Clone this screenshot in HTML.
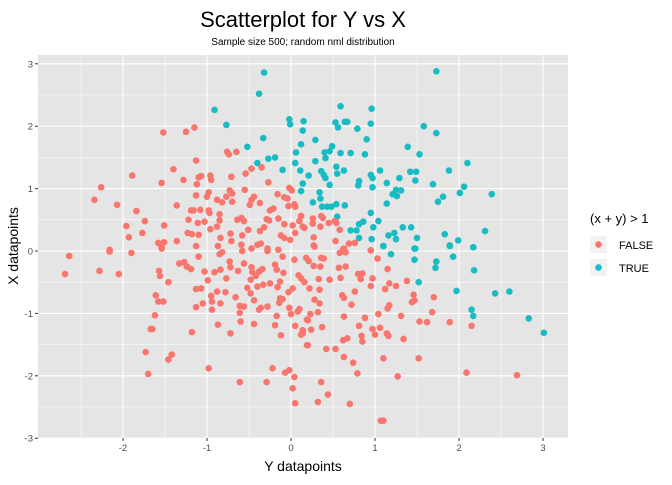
<!DOCTYPE html>
<html><head><meta charset="utf-8"><style>
body{margin:0;background:#fff;}
svg{font-family:"Liberation Sans",sans-serif;}
</style></head><body>
<svg id="chart" width="672" height="480">
<rect width="672" height="480" fill="#fff"/>
<text x="303" y="27" text-anchor="middle" font-size="22" fill="#000">Scatterplot for Y vs X</text>
<text x="303" y="45" text-anchor="middle" font-size="10" fill="#000">Sample size 500; random nml distribution</text>
<rect x="38" y="55" width="530" height="383" fill="#e5e5e5"/>
<g id="grid"></g><g id="ticks"></g><g id="points"></g>
<text x="303" y="471" text-anchor="middle" font-size="14" fill="#000">Y datapoints</text>
<text transform="translate(18,246) rotate(-90)" text-anchor="middle" font-size="14" fill="#000">X datapoints</text>
<g>
<text x="590" y="223" font-size="13" fill="#000">(x + y) &gt; 1</text>
<rect x="590" y="236" width="17" height="17" fill="#f2f2f2"/>
<circle cx="598.5" cy="244.5" r="3.3" fill="#F8766D"/>
<text x="619" y="249" font-size="11" fill="#000">FALSE</text>
<rect x="590" y="259" width="17" height="17" fill="#f2f2f2"/>
<circle cx="598.5" cy="267.5" r="3.3" fill="#1ABCC4"/>
<text x="619" y="272" font-size="11" fill="#000">TRUE</text>
</g>
</svg>
<script>
const xTicks=[-2,-1,0,1,2,3];
const yTicks=[-3,-2,-1,0,1,2,3];
const xs=[-0.32,-0.38,-0.91,-0.77,-0.33,-0.52,-0.40,-0.35,-0.27,-0.19,-0.10,-0.02,-0.01,0.15,0.14,0.12,0.06,0.05,0.11,0.14,-0.02,0.12,
-1.15,-1.25,-1.52,-0.76,-0.74,-0.65,-1.13,-1.40,-1.89,-1.54,-1.28,-1.10,-1.07,-0.96,-0.95,-1.12,-0.71,-0.54,-0.47,-0.27,-2.26,-2.34,-2.07,-1.84,-1.74,-1.96,-1.93,-1.77,-1.51,-1.36,-1.13,-0.98,-1.00,-0.88,-0.82,-0.77,-0.73,-0.70,-0.70,-0.55,-0.47,-0.44,-0.49,-0.37,-0.16,-0.08,-0.04,0.01,-0.03,0.04,0.05,-1.19,-1.16,-1.08,-0.98,-0.97,-0.85,-1.22,-1.11,-1.03,-0.85,-0.96,-0.88,-0.64,-0.59,-0.56,-0.72,-0.84,-0.71,-0.58,-0.51,-0.37,-0.32,-0.29,-0.26,-0.25,-0.21,-0.15,-0.08,0.02,0.12,0.10,0.14,-0.12,-0.08,-0.01,0.05,-1.23,-1.18,-1.10,-1.36,-1.58,-1.51,-1.54,-1.13,-0.87,-0.40,-0.36,-0.28,-0.15,-0.47,-0.59,-2.16,
-2.64,-2.69,-2.28,-2.16,-2.05,-1.90,-1.54,-1.33,-1.27,-1.24,-1.19,-1.10,-1.57,-1.56,-1.46,-1.61,-1.58,-1.52,-1.62,-1.67,-1.65,-1.73,-1.70,-1.42,-1.46,-1.18,-1.13,-1.13,-1.07,-1.05,-1.03,-0.99,-0.95,-0.94,-0.94,-0.91,-0.88,-0.84,-0.87,-0.84,-0.85,-0.82,-0.78,-0.77,-0.73,-0.72,-0.72,-0.66,-0.63,-0.61,-0.61,-0.60,-0.56,-0.56,-0.58,-0.52,-0.48,-0.47,-0.46,-0.48,-0.44,-0.44,-0.42,-0.40,-0.38,-0.34,-0.33,-0.38,-0.36,-0.28,-0.25,-0.28,-0.19,-0.17,-0.16,-0.13,-0.10,-0.09,-0.03,-0.13,-0.10,-0.14,-0.17,-0.19,-0.12,-0.02,0.00,0.05,0.04,0.09,0.08,0.14,0.19,0.20,0.02,-0.22,-0.07,-0.02,0.04,0.02,0.05,-0.29,-0.61,-0.98,
1.73,0.59,0.96,0.53,0.56,0.64,0.67,0.79,0.95,0.29,0.90,1.58,1.73,1.39,1.53,0.40,0.46,0.49,0.41,0.59,0.71,0.88,0.29,0.54,0.55,0.63,2.10,1.88,1.06,0.36,0.39,0.41,0.21,0.95,0.97,0.97,0.81,0.80,0.46,1.42,1.49,1.48,1.29,1.14,1.69,1.21,1.25,1.31,1.26,2.06,2.01,2.39,1.81,1.75,1.14,0.34,0.35,0.26,0.37,0.43,0.48,0.54,0.64,0.55,0.54,0.95,1.04,0.86,0.81,0.98,0.78,0.71,0.81,0.96,1.16,1.23,1.25,1.33,1.43,1.50,1.10,1.47,1.83,1.99,1.89,2.17,2.31,
0.12,0.26,0.26,0.36,0.38,0.45,0.52,0.35,0.16,0.58,0.27,0.53,0.69,0.76,0.63,0.27,0.95,
1.10,1.48,1.19,1.47,1.73,1.72,1.89,2.17,1.93,2.18,1.52,1.97,2.43,2.60,2.15,2.17,2.83,3.01,
0.28,0.62,0.65,0.58,0.95,1.03,0.18,0.21,0.36,0.39,0.27,0.35,0.57,0.65,1.15,0.12,0.16,0.33,0.46,0.59,0.80,0.85,0.83,0.97,0.95,1.17,1.25,1.38,1.12,0.22,0.34,0.76,0.61,0.63,0.28,0.34,0.72,1.46,1.44,1.47,1.70,1.17,1.15,0.10,0.23,0.32,0.19,0.63,0.88,1.04,1.31,1.68,1.53,1.62,1.89,2.15,0.14,0.24,0.12,0.37,0.81,0.97,1.00,1.06,1.14,1.16,0.84,0.85,0.67,0.62,1.34,0.20,0.42,0.53,0.63,0.74,0.79,1.10,1.52,1.27,2.09,2.69,0.36,0.44,0.32,0.70,1.07,1.10];
const ys=[2.86,2.52,2.26,2.02,1.81,1.67,1.41,1.34,1.48,1.50,1.30,2.11,2.03,2.08,1.93,1.71,1.58,1.41,1.29,1.08,1.01,0.96,
1.98,1.91,1.90,1.59,1.55,1.59,1.45,1.31,1.21,1.09,1.14,1.18,1.20,1.21,1.14,1.07,1.19,1.24,1.32,1.10,1.02,0.82,0.74,0.64,0.48,0.40,0.22,0.29,0.41,0.73,0.89,0.94,0.87,0.82,0.78,0.87,0.97,0.92,0.79,0.98,0.82,0.87,0.74,0.77,0.91,0.86,0.84,0.97,0.72,0.75,0.71,0.65,0.65,0.66,0.65,0.61,0.59,0.50,0.45,0.47,0.49,0.35,0.39,0.50,0.53,0.48,0.28,0.21,0.16,0.25,0.34,0.32,0.38,0.51,0.49,0.65,0.68,0.52,0.43,0.41,0.56,0.48,0.39,0.25,0.21,0.18,0.29,0.29,0.27,0.26,0.16,0.13,0.14,0.06,0.08,0.08,0.10,0.12,0.04,0.02,0.04,0.10,0.02,
-0.08,-0.37,-0.32,-0.01,-0.37,-0.03,0.04,-0.20,-0.18,-0.25,-0.29,-0.09,-0.32,-0.40,-0.50,-0.71,-0.81,-0.81,-1.03,-1.25,-1.25,-1.62,-1.97,-1.66,-1.74,-1.30,-0.90,-0.61,-0.60,-0.84,-0.33,-0.47,-0.72,-0.81,-0.94,-0.34,-0.65,-0.84,-1.18,-0.30,-0.05,-0.02,-0.66,-0.44,-0.17,-0.26,-1.32,-0.74,-0.32,-0.88,-0.99,-1.13,-0.89,-0.20,0.00,-0.59,-0.68,-0.26,-0.34,-0.46,-0.79,-1.17,-0.40,-0.57,-0.33,-0.29,-0.54,-0.94,-0.91,-0.89,-0.52,0.00,-0.22,-0.30,-0.58,-0.49,-0.09,-0.35,-0.66,-0.76,-0.77,-0.83,-1.04,-1.19,-1.35,-0.91,-1.01,-1.20,-0.14,-0.39,-0.97,-1.32,-1.51,-1.11,-0.60,-1.88,-1.95,-1.91,-2.02,-2.20,-2.44,-2.10,-2.10,-1.88,
2.88,2.32,2.28,2.06,1.98,2.07,2.07,1.96,2.04,1.78,1.79,2.00,1.89,1.67,1.55,1.58,1.60,1.68,1.49,1.57,1.57,1.55,1.44,1.35,1.24,1.29,1.41,1.29,1.29,1.28,1.22,1.17,1.21,1.22,1.17,1.02,1.12,1.05,1.06,1.27,1.27,1.13,1.17,1.09,1.07,0.91,0.98,0.97,0.88,1.03,0.93,0.91,0.87,0.79,0.76,0.94,0.84,0.78,0.71,0.71,0.71,0.75,0.73,0.55,0.45,0.61,0.48,0.47,0.43,0.38,0.33,0.33,0.21,0.19,0.25,0.29,0.19,0.38,0.38,0.21,0.08,0.04,0.27,0.17,0.09,0.06,0.32,
0.56,0.52,0.44,0.56,0.53,0.45,0.48,0.39,0.37,0.34,0.22,0.16,0.12,0.13,0.04,0.09,0.01,
0.08,0.04,-0.05,-0.14,-0.17,-0.27,0.08,0.06,-0.09,-0.31,-0.50,-0.64,-0.68,-0.65,-0.94,-1.04,-1.08,-1.31,
0.07,0.03,-0.02,-0.03,0.01,-0.12,-0.11,-0.16,-0.11,-0.12,-0.24,-0.25,-0.27,-0.25,-0.29,-0.44,-0.50,-0.45,-0.46,-0.43,-0.37,-0.36,-0.45,-0.44,-0.56,-0.52,-0.56,-0.48,-0.61,-0.60,-0.62,-0.65,-0.71,-0.75,-0.78,-0.84,-0.86,-0.70,-0.82,-0.79,-0.74,-0.87,-0.92,-0.93,-1.01,-0.98,-1.10,-1.05,-1.07,-1.01,-1.04,-0.98,-1.13,-1.14,-1.14,-1.20,-1.27,-1.26,-1.34,-1.22,-1.20,-1.25,-1.34,-1.23,-1.32,-1.36,-1.36,-1.45,-1.40,-1.43,-1.41,-1.51,-1.57,-1.57,-1.70,-1.79,-1.96,-1.72,-1.72,-2.01,-1.95,-1.99,-2.10,-2.30,-2.42,-2.45,-2.72,-2.72];
const PL=38,PT=55,PR=568,PB=438;
const sx=v=>291+v*84, sy=v=>251-v*62.4;
const NS='http://www.w3.org/2000/svg';
const grid=document.getElementById('grid'), ticks=document.getElementById('ticks'), pts=document.getElementById('points');
function line(p,x1,y1,x2,y2,c,w){const l=document.createElementNS(NS,'line');l.setAttribute('x1',x1);l.setAttribute('y1',y1);l.setAttribute('x2',x2);l.setAttribute('y2',y2);l.setAttribute('stroke',c);l.setAttribute('stroke-width',w);p.appendChild(l);return l;}
for(let v=-2.5;v<=3.01;v+=1){const g=line(grid,sx(v),PT,sx(v),PB,'#fff',0.55);

}
for(let v=-2.5;v<=2.51;v+=1){const g=line(grid,PL,sy(v),PR,sy(v),'#fff',0.55);

}
xTicks.forEach(v=>{const g=line(grid,sx(v),PT,sx(v),PB,'#fff',1.1);


line(ticks,sx(v),PB,sx(v),PB+3,'#333',1);
const t=document.createElementNS(NS,'text');t.setAttribute('x',sx(v));t.setAttribute('y',PB+13);t.setAttribute('text-anchor','middle');t.setAttribute('font-size','9.5');t.setAttribute('fill','#4d4d4d');t.textContent=v;


ticks.appendChild(t);});
yTicks.forEach(v=>{const g=line(grid,PL,sy(v),PR,sy(v),'#fff',1.1);


line(ticks,PL-3,sy(v),PL,sy(v),'#333',1);
const t=document.createElementNS(NS,'text');t.setAttribute('x',PL-5);t.setAttribute('y',sy(v)+3.5);t.setAttribute('text-anchor','end');t.setAttribute('font-size','9.5');t.setAttribute('fill','#4d4d4d');t.textContent=v;


ticks.appendChild(t);});
xs.forEach((x,i)=>{const y=ys[i];const c=document.createElementNS(NS,'circle');
c.setAttribute('cx',sx(x));c.setAttribute('cy',sy(y));c.setAttribute('r',3.3);
c.setAttribute('fill',(x+y)>1?'#1ABCC4':'#F8766D');


pts.appendChild(c);});
</script>
</body></html>
